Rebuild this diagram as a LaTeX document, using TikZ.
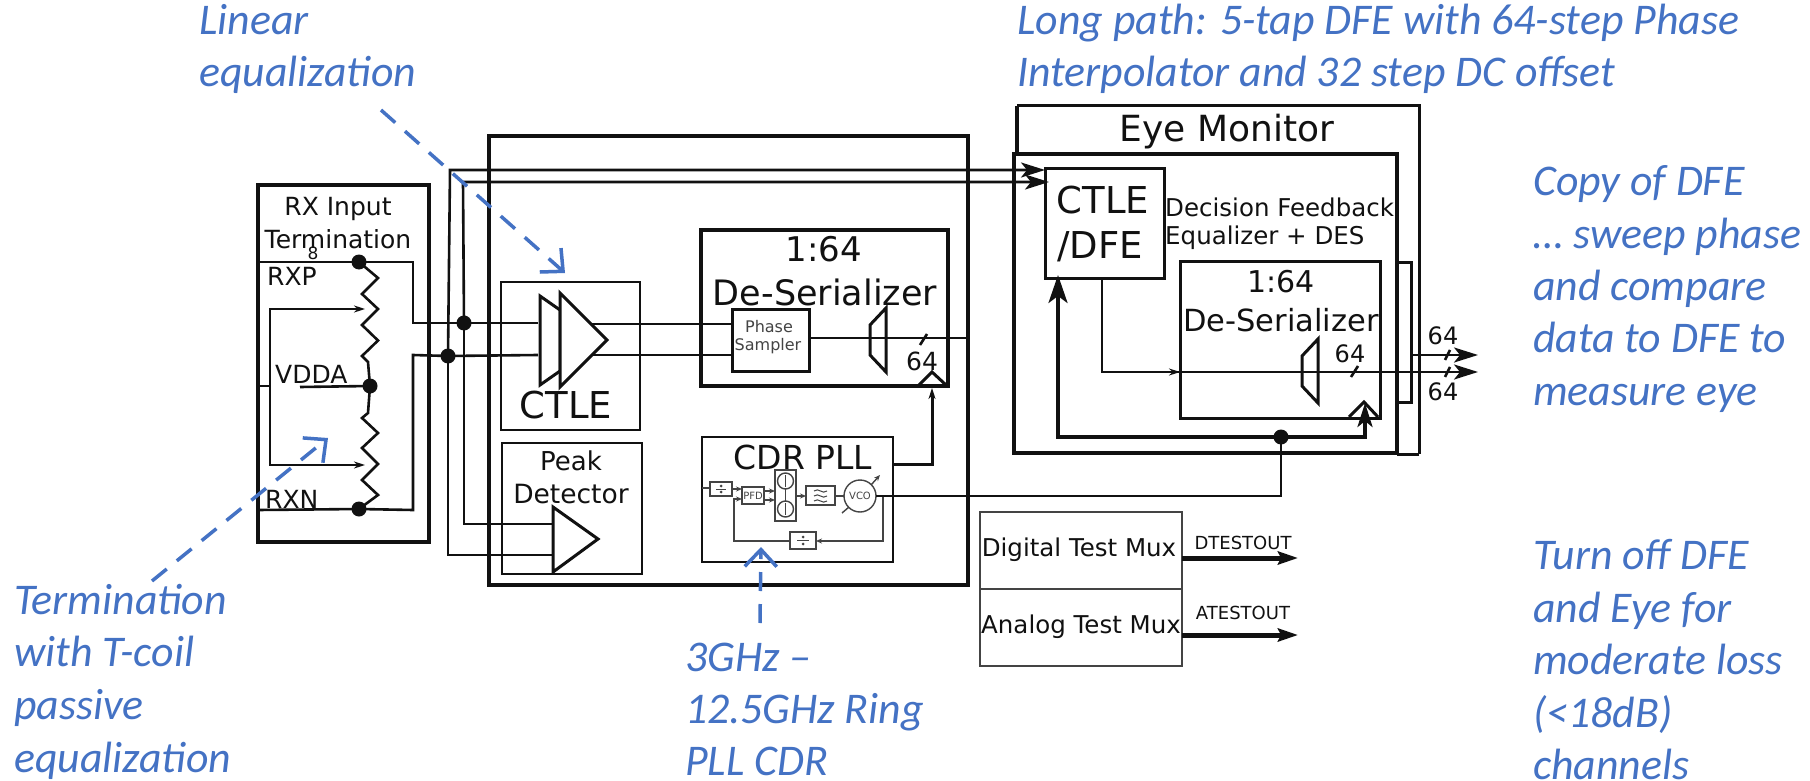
\documentclass[tikz,border=0pt]{standalone}
\usepackage{fontspec}
\setmainfont{DejaVu Sans}
\newfontfamily\bluef{Carlito}[ItalicFont=* Italic]
\usetikzlibrary{arrows.meta}
\definecolor{noteblue}{HTML}{4472C4}
\definecolor{ink}{HTML}{111111}
\definecolor{grayink}{HTML}{444444}
\newcommand{\fs}[1]{\fontsize{#1}{#1}\selectfont}
\tikzset{
  x=1pt,y=-1pt,
  thick3/.style={draw=ink,line width=3.4pt},
  thick2/.style={draw=ink,line width=2.6pt},
  thin1/.style={draw=grayink,line width=1.4pt},
  lbl/.style={inner sep=0pt,text=ink,align=center},
  note/.style={inner sep=0pt,anchor=base west,text=noteblue,font=\bluef\itshape\fs{43.8}},
  notearrow/.style={draw=noteblue,line width=3.5pt,dash pattern=on 19pt off 13pt,
    -{Straight Barb[length=17pt,width=32pt,line width=3.5pt]}},
  arr/.style={-{Stealth[length=11pt,width=7pt]}},
  arrbig/.style={-{Stealth[length=28pt,width=19pt,inset=7pt]}},
  arrout/.style={-{Stealth[length=24pt,width=15pt,inset=6pt]}},
  arrsm/.style={-{Stealth[length=6pt,width=5pt]}},
  dot/.style={circle,fill=ink,inner sep=0pt,minimum size=15pt},
}
\begin{document}
\begin{tikzpicture}
\useasboundingbox (0,0) rectangle (1810,781);
\fill[white] (0,0) rectangle (1810,781);
% ---- RX termination
\draw[thick3,line width=3.8pt] (258,185) rectangle (429,542);
\node[lbl,font=\fs{25}] (rxin) at (338,209) {RX Input};
\node[lbl,font=\fs{25}] (rxterm) at (338,239) {Termination};
\node[lbl,font=\fs{17}] (eight) at (313,253) {8};
\node[lbl,font=\fs{25},anchor=west] (rxp) at (267,276) {RXP};
\node[lbl,font=\fs{25},anchor=west] (vdda) at (275,374) {VDDA};
\node[lbl,font=\fs{25},anchor=west] (rxn) at (265,499) {RXN};
\node[dot] (drxp) at (359,262) {};
\node[dot] (dvdda) at (370,386) {};
\node[dot] (drxn) at (359,509) {};
\coordinate (pin) at (538,323);
\coordinate (nin) at (538,355);
\node[dot] (dp) at (464,323) {};
\node[dot] (dn) at (448,356) {};
\draw[thick2] (258,262) -- (drxp.center) -- (413,262) -- (413,323) -- (dp.center) -- (pin);
\draw[thick2] (258,510) -- (drxn.center) -- (413,510) -- (413,355) -- (dn.center) -- (nin);
\draw[thick2] (drxp.center) -- (378,278) -- (362,294) -- (378,309) -- (362,325) -- (378,340.5) -- (362,356) -- (368,362) -- (dvdda.center)
  -- (368,413) -- (362,418) -- (378,433) -- (362,448) -- (378,464) -- (362,480) -- (378,495) -- (drxn.center);
\coordinate (taptop) at (365,309);
\coordinate (tapbot) at (365,465);
\draw[thick2,arr] (270,386) |- (taptop);
\draw[thick2,arr] (270,386) |- (tapbot);
\draw[thick2] (258,386) -- (270,386);
\draw[thick2] (300,387) -- (dvdda.center);
% ---- main box
\draw[thick3] (489,136) rectangle (968,585);
% ---- CTLE
\draw[thick2] (501,282) rectangle (640,430);
\node[lbl,font=\fs{37}] (ctlelab) at (566,405) {CTLE};
\draw[thick2,line width=3pt,fill=white] (540,296) -- (560,310) -- (560,371) -- (540,385) -- cycle;
\draw[thick2,line width=3pt,fill=white] (560,293) -- (607,340) -- (560,387) -- cycle;
% ---- Peak detector
\draw[thick2] (502,443) rectangle (642,574);
\node[lbl,font=\fs{26}] (peak) at (571,461) {Peak};
\node[lbl,font=\fs{26.5}] (det) at (571,494) {Detector};
\draw[thick2,line width=3pt,fill=white] (553,507) -- (598,539) -- (553,572) -- cycle;
\draw[thick2] (dp.center) |- (553,524);
\draw[thick2] (dn.center) |- (553,555);
% ---- De-serializer
\draw[thick3] (701,230) rectangle (948,386);
\node[lbl,font=\fs{34}] (dsa) at (824,249) {1:64};
\node[lbl,font=\fs{35}] (dsb) at (825,292) {De-Serializer};
\draw[thick2,line width=3pt] (732,309) rectangle (809,371);
\node[lbl,font=\fs{16},text=grayink] (ps1) at (769,327) {Phase};
\node[lbl,font=\fs{16},text=grayink] (ps2) at (768,346) {Sampler};
\draw[thick2] (591,324) -- (732,324);
\draw[thick2] (592,355) -- (732,355);
\draw[thick2] (809,338) -- (968,338);
\draw[thick2,line width=3pt,fill=none] (886,308) -- (870,325) -- (870,355) -- (886,372) -- cycle;
\draw[thick2] (920,345) -- (927,334);
\node[lbl,font=\fs{25}] (n64a) at (922,361) {64};
\draw[thick2,line width=3pt] (919,385) -- (932,372) -- (946,385);
% ---- CDR PLL
\draw[thick2] (702,437) rectangle (893,562);
\node[lbl,font=\fs{33}] (cdr) at (803,457) {CDR PLL};
\draw[thick3,arr,line width=3pt] (893,464) -- (932,464) -- (932,388);
\draw[thin1] (702,488) -- (710,488);
\draw[thin1] (710,482) rectangle (732,496);
\fill[grayink] (721,486) circle (1.5pt) (721,492) circle (1.5pt);
\draw[grayink,line width=1pt] (716,489) -- (726,489);
\draw[thin1] (742,487) rectangle (764,504);
\node[lbl,font=\fs{10},text=grayink] (pfd) at (753,495.5) {PFD};
\draw[thin1,arrsm] (732,489) -- (742,489);
\draw[thin1,arrsm] (764,491) -- (775,491);
\draw[thin1,arrsm] (764,500) -- (775,500);
\draw[thin1] (775,470) rectangle (796,521);
\draw[thin1] (785.5,489) -- (785.5,501);
\draw[thin1] (785.5,481) circle (8pt) (785.5,509) circle (8pt);
\draw[grayink,line width=.8pt] (785.5,475) -- (785.5,487) (785.5,503) -- (785.5,515);
\draw[thin1,arrsm] (796,496) -- (806,496);
\draw[thin1] (806,486) rectangle (835,505);
\foreach \yy in {491,496,501}
  \draw[grayink,line width=1pt] (814,\yy) .. controls (819,\yy-4) and (822,\yy+4) .. (827,\yy);
\draw[thin1] (835,496) -- (844,496);
\draw[thin1] (860,496) circle (16pt);
\node[lbl,font=\fs{10},text=grayink] (vco) at (860,496) {VCO};
\draw[thin1] (842,513) -- (849,507);
\draw[thin1,arrsm] (871,485) -- (880,475);
\draw[thin1] (790,532) rectangle (816,549);
\fill[grayink] (803,537) circle (1.5pt) (803,544) circle (1.5pt);
\draw[grayink,line width=1pt] (797,540.5) -- (809,540.5);
\draw[thin1,arrsm] (883,496) -- (883,541) -- (816,541);
\draw[thin1,arrsm] (790,541) -- (734,541) -- (734,499) -- (742,499);
% ---- Eye monitor
\draw[thick2,line width=3pt] (1419,454) -- (1397,454) (1017,106) -- (1419,106) -- (1419,454);
\draw[thick3,line width=4pt] (1017,154) -- (1017,106);
\draw[thick3,line width=3.4pt] (1014,154) rectangle (1397,453);
\node[lbl,font=\fs{36}] (eye) at (1227,132) {Eye Monitor};
\draw[thick2,line width=3pt] (1397,262) rectangle (1411,402);
\draw[thick2,line width=3pt] (1045,169) rectangle (1164,278);
\node[lbl,font=\fs{37}] (cd1) at (1103,200) {CTLE};
\node[lbl,font=\fs{37}] (cd2) at (1100,247) {/DFE};
\node[lbl,font=\fs{24.5},anchor=west] (dfb) at (1165,207) {Decision Feedback};
\node[lbl,font=\fs{24.5},anchor=west] (equ) at (1165,238) {Equalizer + DES};
\draw[thick2,line width=3pt] (1180,261) rectangle (1380,418);
\node[lbl,font=\fs{30}] (ida) at (1281,282) {1:64};
\node[lbl,font=\fs{30.5}] (idb) at (1281,320) {De-Serializer};
\draw[thick2,line width=3pt] (1318,339) -- (1302,356) -- (1302,386) -- (1318,403) -- cycle;
\node[lbl,font=\fs{24}] (n64b) at (1350,354) {64};
\draw[thick2] (1351,377) -- (1358,366);
\draw[thick2,line width=3pt] (1349,417) -- (1364,402) -- (1378,417);
% signals
\coordinate (eyein1) at (1045,170);
\coordinate (eyein2) at (1049,182);
\draw[thick2,arrout] (dn.center) -- (450,170) -- (eyein1);
\draw[thick2,arrout] (dp.center) -- (463,182) -- (eyein2);
\coordinate (o1) at (1478,355);
\coordinate (o2) at (1478,372);
\draw[thick2] (1102,278) |- (1180,372);
\draw[thin1,arr,line width=1.6pt,draw=ink] (1150,372) -- (1180,372);
\draw[thick2,arrout] (1180,372) -- (o2);
\draw[thick2,arrout] (1411,355) -- (o1);
\draw[thick2] (1445,360) -- (1450,350) (1445,377) -- (1450,367);
\node[lbl,font=\fs{24}] (o64a) at (1443,336) {64};
\node[lbl,font=\fs{24}] (o64b) at (1443,392) {64};
% VCO out to eye monitor
\node[dot] (dck) at (1281,437) {};
\draw[thick2] (876,496) -- (1281,496) -- (dck.center);
\draw[thick3,line width=3.6pt,arrbig] (dck.center) -- (1058,437) -- (1058,275);
\draw[thick3,line width=3.6pt,arrout] (dck.center) -- (1365,437) -- (1365,403);
% ---- Test mux
\draw[thin1,line width=2pt] (980,512) rectangle (1182,589);
\draw[thin1,line width=2pt] (980,589) rectangle (1182,666);
\node[lbl,font=\fs{24.5}] (dtm) at (1079,550) {Digital Test Mux};
\node[lbl,font=\fs{24.5}] (atm) at (1081,627) {Analog Test Mux};
\coordinate (dte) at (1298,558);
\coordinate (ate) at (1298,635);
\draw[thick3,line width=5pt,-{Stealth[length=20pt,width=13pt,inset=3pt]}] (1182,558) -- (dte);
\draw[thick3,line width=5pt,-{Stealth[length=20pt,width=13pt,inset=3pt]}] (1182,635) -- (ate);
\node[lbl,font=\fs{18}] (dto) at (1243,543) {DTESTOUT};
\node[lbl,font=\fs{18}] (ato) at (1243,613) {ATESTOUT};
% ---- blue notes
\node[note] (n1a) at (199,35) {Linear};
\node[note] (n1b) at (199,87) {equalization};
\node[note] (n2a) at (1017,35) {Long path: 5-tap DFE with 64-step Phase};
\node[note] (n2b) at (1017,87) {Interpolator and 32 step DC offset};
\node[note] (n3a) at (1533,195) {Copy of DFE};
\node[note] (n3b) at (1533,248) {… sweep phase};
\node[note] (n3c) at (1533,300) {and compare};
\node[note] (n3d) at (1533,352) {data to DFE to};
\node[note] (n3e) at (1533,405) {measure eye};
\node[note] (n4a) at (1533,569) {Turn off DFE};
\node[note] (n4b) at (1533,622) {and Eye for};
\node[note] (n4c) at (1533,674) {moderate loss};
\node[note] (n4d) at (1533,727) {(<18dB)};
\node[note] (n4e) at (1533,779) {channels};
\node[note] (n5a) at (685,671) {3GHz –};
\node[note] (n5b) at (685,723) {12.5GHz Ring};
\node[note] (n5c) at (685,775) {PLL CDR};
\node[note] (n6a) at (14,614) {Termination};
\node[note] (n6b) at (14,666) {with T-coil};
\node[note] (n6c) at (14,719) {passive};
\node[note] (n6d) at (14,772) {equalization};
\coordinate (a1s) at (381,110);
\coordinate (a1e) at (565,273);
\coordinate (a2s) at (152,581);
\coordinate (a2e) at (328,438);
\coordinate (a3s) at (760,623);
\coordinate (a3e) at (761,547);
\draw[notearrow] (a1s) -- (a1e);
\draw[notearrow] (a2s) -- (a2e);
\draw[notearrow] (a3s) -- (a3e);
\end{tikzpicture}
\end{document}
